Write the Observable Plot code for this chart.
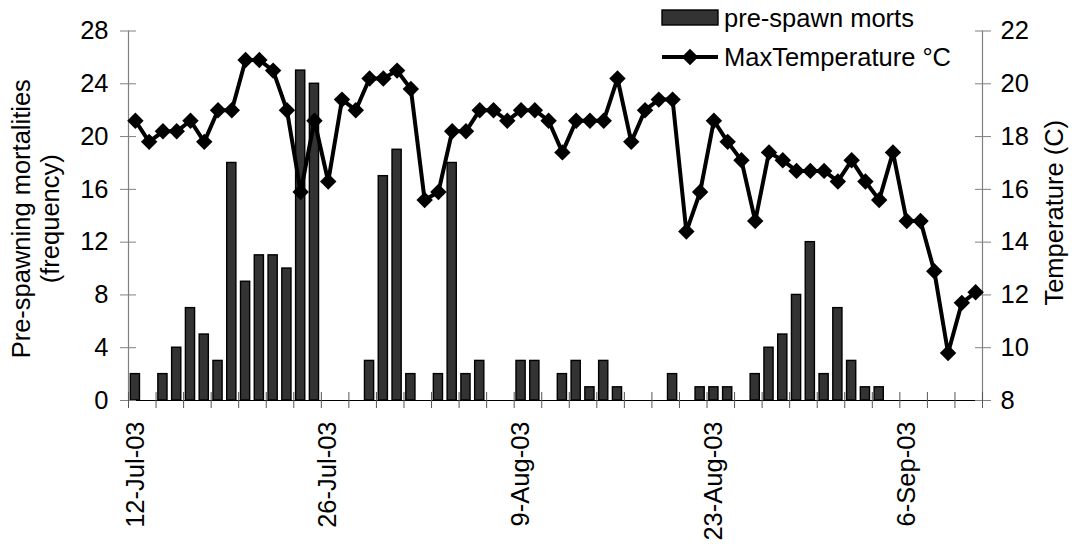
<!DOCTYPE html>
<html>
<head>
<meta charset="utf-8">
<script src="https://cdn.jsdelivr.net/npm/d3@7"></script>
<script src="https://cdn.jsdelivr.net/npm/@observablehq/plot@0.6"></script>
<style>
  body { margin: 0; background: white; }
  #wrap { position: relative; width: 1072px; height: 544px; }
  #legend { position: absolute; left: 0; top: 0; pointer-events: none; }
</style>
</head>
<body>
<div id="wrap"></div>
<script>
// Days (12 Jul 2003 .. 11 Sep 2003)
const dates = [
  "2003-07-12","2003-07-13","2003-07-14","2003-07-15","2003-07-16","2003-07-17","2003-07-18","2003-07-19",
  "2003-07-20","2003-07-21","2003-07-22","2003-07-23","2003-07-24","2003-07-25","2003-07-26","2003-07-27",
  "2003-07-28","2003-07-29","2003-07-30","2003-07-31","2003-08-01","2003-08-02","2003-08-03","2003-08-04",
  "2003-08-05","2003-08-06","2003-08-07","2003-08-08","2003-08-09","2003-08-10","2003-08-11","2003-08-12",
  "2003-08-13","2003-08-14","2003-08-15","2003-08-16","2003-08-17","2003-08-18","2003-08-19","2003-08-20",
  "2003-08-21","2003-08-22","2003-08-23","2003-08-24","2003-08-25","2003-08-26","2003-08-27","2003-08-28",
  "2003-08-29","2003-08-30","2003-08-31","2003-09-01","2003-09-02","2003-09-03","2003-09-04","2003-09-05",
  "2003-09-06","2003-09-07","2003-09-08","2003-09-09","2003-09-10","2003-09-11"
];
// Pre-spawn morts (frequency)
const morts = [
  2,0,2,4,7,5,3,18, 9,11,11,10,25,24,0,0,
  0,3,17,19,2,0,2,18, 2,3,0,0,3,3,0,2,
  3,1,3,1,0,0,0,2, 0,1,1,1,0,2,4,5,
  8,12,2,7,3,1,1,0, 0,0,0,0,0,0
];
// Max temperature (°C)
const maxTemp = [
  18.6,17.8,18.2,18.2,18.6,17.8,19.0,19.0, 20.9,20.9,20.5,19.0,15.9,18.6,16.3,19.4,
  19.0,20.2,20.2,20.5,19.8,15.6,15.9,18.2, 18.2,19.0,19.0,18.6,19.0,19.0,18.6,17.4,
  18.6,18.6,18.6,20.2,17.8,19.0,19.4,19.4, 14.4,15.9,18.6,17.8,17.1,14.8,17.4,17.1,
  16.7,16.7,16.7,16.3,17.1,16.3,15.6,17.4, 14.8,14.8,12.9,9.8,11.7,12.1
];
// Axis ticks / labels
const leftTicks = [0, 4, 8, 12, 16, 20, 24, 28];
const rightTicks = [8, 10, 12, 14, 16, 18, 20, 22];
const xLabelDates = ["2003-07-12", "2003-07-26", "2003-08-09", "2003-08-23", "2003-09-06"];
const domainStart = "2003-07-12";
const domainEnd = "2003-09-12";

const parse = d3.utcParse("%Y-%m-%d");
const DAY = 864e5;
const table = dates.map((d, i) => ({date: parse(d), morts: morts[i], temp: maxTemp[i]}));
const x0 = parse(domainStart), x1 = parse(domainEnd);
// temperature mapped onto the left (count) scale: 8..22 °C  <->  0..28
const tY = t => (t - 8) * 2;
const fmt = d3.utcFormat("%-d-%b-%y");
const FONT = "'Liberation Sans', Arial, sans-serif";
const FS = 25.5;
const xTicks = d3.utcDay.range(x0, new Date(+x1 + 1), 2);

const chart = Plot.plot({
  width: 1072,
  height: 544,
  marginLeft: 128,
  marginRight: 90,
  marginTop: 30.5,
  marginBottom: 144,
  style: {fontFamily: FONT, fontSize: FS + "px", background: "white", color: "black", overflow: "visible"},
  x: {type: "utc", domain: [x0, x1], axis: null},
  y: {domain: [0, 28], axis: null},
  marks: [
    Plot.rectY(table.filter(d => d.morts > 0), {
      x1: d => d.date, x2: d => new Date(+d.date + DAY), y: "morts",
      insetLeft: 2.3, insetRight: 2.3, fill: "#333333", stroke: "black", strokeWidth: 1.4
    }),
    Plot.ruleX([x0], {stroke: "#808080", strokeWidth: 1.2}),
    Plot.ruleX([x1], {stroke: "#808080", strokeWidth: 1.2}),
    Plot.ruleY([0], {stroke: "black", strokeWidth: 1.2}),
    // tick marks (crossing the axis lines)
    Plot.axisY(leftTicks, {anchor: "left", tickSize: 16, dx: 8, fill: "none", stroke: "#808080", label: null}),
    Plot.axisY(rightTicks.map(tY), {anchor: "right", tickSize: 16, dx: -8, fill: "none", stroke: "#808080", label: null}),
    Plot.axisX(xTicks, {anchor: "bottom", tickSize: 16, dy: -8, fill: "none", stroke: "#555", label: null}),
    // tick labels
    Plot.axisY(leftTicks, {anchor: "left", tickSize: 8, tickPadding: 12, stroke: "none", fill: "black",
      fontSize: FS, label: null}),
    Plot.axisY(rightTicks.map(tY), {anchor: "right", tickSize: 8, tickPadding: 10, stroke: "none", fill: "black",
      fontSize: FS, label: null, tickFormat: v => String(v / 2 + 8)}),
    Plot.axisX(xLabelDates.map(s => new Date(+parse(s) + DAY / 2)), {anchor: "bottom", tickSize: 8, tickPadding: 13,
      tickRotate: -90, stroke: "none", fill: "black", fontSize: FS, label: null, tickFormat: fmt}),
    Plot.line(table, {x: d => new Date(+d.date + DAY / 2), y: d => tY(d.temp), stroke: "black", strokeWidth: 4}),
    Plot.dot(table, {x: d => new Date(+d.date + DAY / 2), y: d => tY(d.temp), symbol: "diamond2", r: 7.4, fill: "black", stroke: "none"}),
    Plot.text(["Pre-spawning mortalities\n(frequency)"], {frameAnchor: "left", dx: -93, dy: 3, rotate: -90,
      textAnchor: "middle", lineAnchor: "middle", fontSize: FS, lineHeight: 1.1, fill: "black", text: d => d}),
    Plot.text(["Temperature (C)"], {frameAnchor: "right", dx: 72, dy: -3, rotate: -90,
      textAnchor: "middle", lineAnchor: "middle", fontSize: FS, fill: "black", text: d => d})
  ]
});
document.getElementById("wrap").appendChild(chart);

// Legend overlay
const lg = d3.select("#wrap").append("svg").attr("id", "legend")
  .attr("width", 1072).attr("height", 544)
  .style("font-family", FONT).style("font-size", FS + "px");
lg.append("rect").attr("x", 662).attr("y", 10).attr("width", 56).attr("height", 15)
  .attr("fill", "#333333").attr("stroke", "black").attr("stroke-width", 1.4);
lg.append("text").attr("x", 724).attr("y", 26.5).attr("fill", "black").text("pre-spawn morts");
lg.append("line").attr("x1", 662).attr("x2", 718).attr("y1", 57).attr("y2", 57)
  .attr("stroke", "black").attr("stroke-width", 4);
lg.append("path").attr("d", d3.symbol(d3.symbolDiamond2, Math.PI * 7.4 * 7.4)())
  .attr("transform", "translate(690,57)").attr("fill", "black");
lg.append("text").attr("x", 724).attr("y", 66).attr("fill", "black").text("MaxTemperature °C");
</script>
</body>
</html>
